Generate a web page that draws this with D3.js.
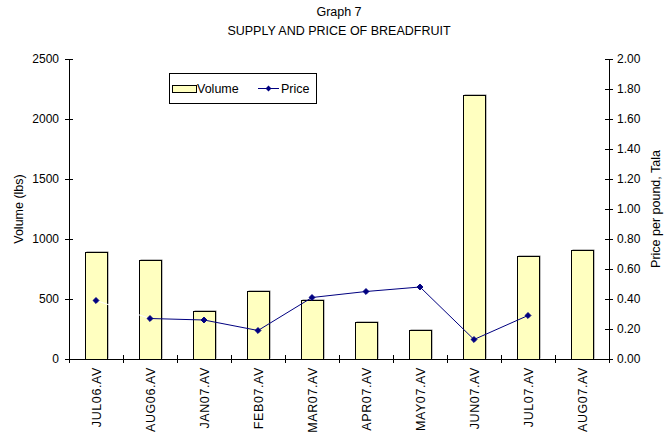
<!DOCTYPE html>
<html lang="en">
<head>
<meta charset="utf-8">
<title>Graph 7</title>
<script src="https://cdn.jsdelivr.net/npm/d3@7"></script>
<style>
    body { margin: 0; background: #fff; }
    text { font-family: "Liberation Sans", Arial, sans-serif; fill: #000; }
    .axis path, .axis line { stroke: #000; shape-rendering: crispEdges; }
    .axis text { font-size: 12px; }
</style>
</head>
<body>
<div id="chart"></div>
<script>

// data
var months = ["JUL06.AV", "AUG06.AV", "JAN07.AV", "FEB07.AV", "MAR07.AV",
              "APR07.AV", "MAY07.AV", "JUN07.AV", "JUL07.AV", "AUG07.AV"];
var volume = [894, 822, 397, 564, 489, 306, 239, 2200, 856, 906];
var price = [0.39, 0.27, 0.26, 0.19, 0.41, 0.45, 0.48, 0.13, 0.29, null];
var volumeTicks = [0, 500, 1000, 1500, 2000, 2500];
var priceTicks = [0, 0.2, 0.4, 0.6, 0.8, 1.0, 1.2, 1.4, 1.6, 1.8, 2.0];

var margin = {top: 59, left: 69},
    width = 540,
    height = 300;

var svg = d3.select("#chart").append("svg")
    .attr("width", 666)
    .attr("height", 444);

var g = svg.append("g")
    .attr("transform", "translate(" + margin.left + "," + margin.top + ")");

var x = d3.scaleBand()
    .domain(months)
    .range([0, width])
    .paddingInner(0.6)
    .paddingOuter(0.3);

var yVol = d3.scaleLinear().domain([0, 2500]).range([height, 0]);
var yPrice = d3.scaleLinear().domain([0, 2]).range([height, 0]);

// bars with a small grey shadow
var bars = g.selectAll(".bar")
    .data(months)
    .enter()
    .append("g");

bars.append("rect")
    .attr("x", function(d) { return Math.round(x(d)) + 1.5; })
    .attr("y", function(d, i) { return Math.round(yVol(volume[i])) - 0.5; })
    .attr("width", Math.round(x.bandwidth()))
    .attr("height", function(d, i) { return height - Math.round(yVol(volume[i])); })
    .style("fill", "#808080");

bars.append("rect")
    .attr("x", function(d) { return Math.round(x(d)) + 0.5; })
    .attr("y", function(d, i) { return Math.round(yVol(volume[i])) + 0.5; })
    .attr("width", Math.round(x.bandwidth()))
    .attr("height", function(d, i) { return height - Math.round(yVol(volume[i])); })
    .style("fill", "#ffffc0")
    .style("stroke", "#000")
    .style("stroke-width", 1);

// axes
var xAxis = g.append("g")
    .attr("class", "axis")
    .attr("transform", "translate(0," + height + ")");
xAxis.append("line")
    .attr("x1", 0).attr("x2", width);
xAxis.selectAll(".tk")
    .data(months.concat(["end"]))
    .enter()
    .append("line")
    .attr("x1", function(d, i) { return Math.round(i * x.step()) + 0.5; })
    .attr("x2", function(d, i) { return Math.round(i * x.step()) + 0.5; })
    .attr("y1", -4).attr("y2", 4);
xAxis.selectAll(".lbl")
    .data(months)
    .enter()
    .append("text")
    .attr("transform", function(d) {
        return "translate(" + (x(d) + x.bandwidth() / 2 + 4.5) + ",8) rotate(-90)";
    })
    .attr("text-anchor", "end")
    .style("font-size", "12.5px")
    .style("letter-spacing", "0.6px")
    .text(function(d) { return d; });

var leftAxis = d3.axisLeft(yVol)
    .tickValues(volumeTicks)
    .tickFormat(d3.format("d"))
    .tickSizeInner(4)
    .tickSizeOuter(0)
    .tickPadding(6);
var la = g.append("g").attr("class", "axis").call(leftAxis);
la.select(".domain").remove();
la.append("line").attr("y1", 0).attr("y2", height);
la.selectAll(".tick line").attr("x1", 4).attr("x2", -4);

var rightAxis = d3.axisRight(yPrice)
    .tickValues(priceTicks)
    .tickFormat(d3.format(".2f"))
    .tickSizeInner(4)
    .tickSizeOuter(0)
    .tickPadding(4);
var ra = g.append("g")
    .attr("class", "axis")
    .attr("transform", "translate(" + width + ",0)")
    .call(rightAxis);
ra.select(".domain").remove();
ra.append("line").attr("y1", 0).attr("y2", height);
ra.selectAll(".tick line").attr("x1", -4).attr("x2", 4);

// price line, first segment is drawn white in the original
var pts = months.map(function(d, i) {
    return {m: d, v: price[i]};
}).filter(function(d) { return d.v != null; });

var line = d3.line()
    .x(function(d) { return x(d.m) + x.bandwidth() / 2; })
    .y(function(d) { return yPrice(d.v); });

g.append("path")
    .datum(pts.slice(0, 2))
    .attr("d", line)
    .style("fill", "none")
    .style("stroke", "#fff")
    .style("stroke-width", 1);

g.append("path")
    .datum(pts.slice(1))
    .attr("d", line)
    .style("fill", "none")
    .style("stroke", "#000080")
    .style("stroke-width", 1);

var diamond = d3.symbol().type(d3.symbolDiamond2).size(22);
g.selectAll(".pt")
    .data(pts)
    .enter()
    .append("path")
    .attr("d", diamond)
    .attr("transform", function(d) {
        return "translate(" + (x(d.m) + x.bandwidth() / 2) + "," + yPrice(d.v) + ")";
    })
    .style("fill", "#000080")
    .style("stroke", "#000080");

// titles
svg.append("text")
    .attr("x", margin.left + width / 2)
    .attr("y", 16)
    .attr("text-anchor", "middle")
    .style("font-size", "12.5px")
    .text("Graph 7");
svg.append("text")
    .attr("x", margin.left + width / 2)
    .attr("y", 35)
    .attr("text-anchor", "middle")
    .style("font-size", "12.5px")
    .text("SUPPLY AND PRICE OF BREADFRUIT");

svg.append("text")
    .attr("transform", "translate(23," + (margin.top + height / 2) + ") rotate(-90)")
    .attr("text-anchor", "middle")
    .style("font-size", "12.5px")
    .text("Volume (lbs)");
svg.append("text")
    .attr("transform", "translate(660," + (margin.top + height / 2) + ") rotate(-90)")
    .attr("text-anchor", "middle")
    .style("font-size", "12.5px")
    .text("Price per pound, Tala");

// legend
var lg = svg.append("g").attr("transform", "translate(169,73)");
lg.append("rect")
    .attr("x", 0.5).attr("y", 0.5)
    .attr("width", 147).attr("height", 30)
    .style("fill", "#fff")
    .style("stroke", "#000");
lg.append("rect")
    .attr("x", 3.5).attr("y", 12.5)
    .attr("width", 24).attr("height", 7)
    .style("fill", "#ffffc0")
    .style("stroke", "#000");
lg.append("text")
    .attr("x", 28).attr("y", 20)
    .style("font-size", "12.5px")
    .text("Volume");
lg.append("line")
    .attr("x1", 89).attr("x2", 110)
    .attr("y1", 15.5).attr("y2", 15.5)
    .style("stroke", "#000080");
lg.append("path")
    .attr("d", diamond)
    .attr("transform", "translate(99.5,15.5)")
    .style("fill", "#000080");
lg.append("text")
    .attr("x", 112).attr("y", 20)
    .style("font-size", "12.5px")
    .text("Price");

</script>
</body>
</html>
